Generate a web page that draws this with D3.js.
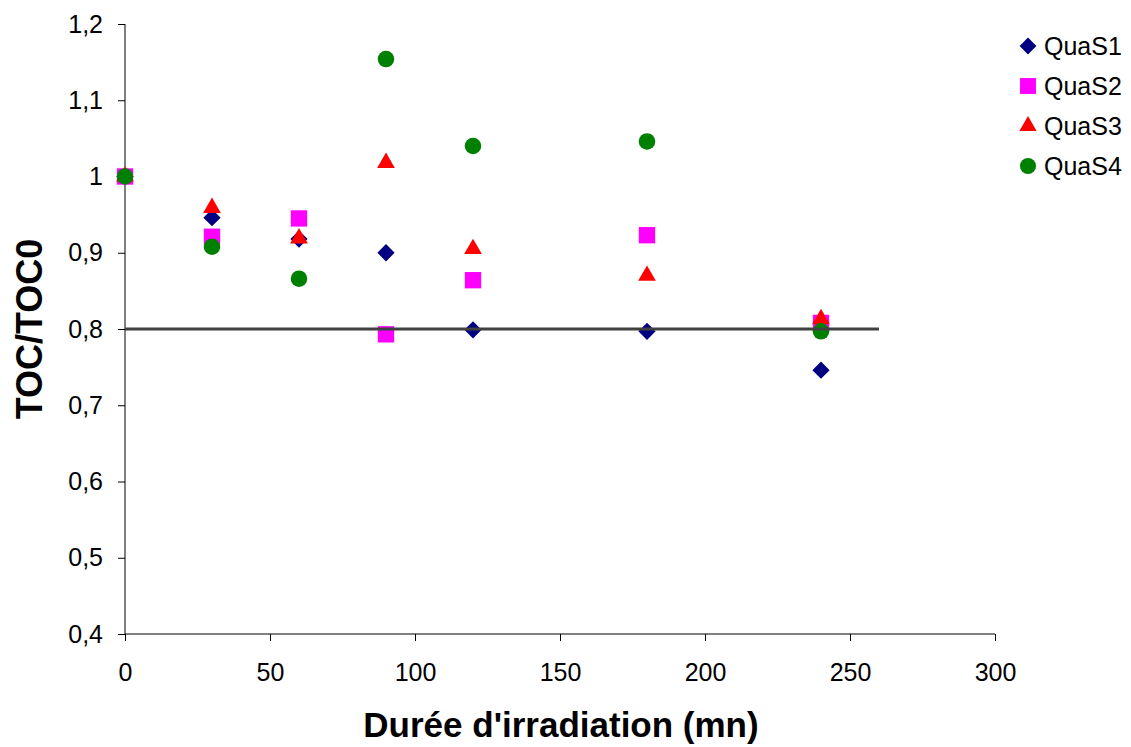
<!DOCTYPE html>
<html><head><meta charset="utf-8">
<script src="https://cdn.jsdelivr.net/npm/d3@7"></script>
<style>
body{margin:0;background:#fff;}
text{font-family:Arial,"Liberation Sans",sans-serif;}
</style></head>
<body><svg id="c" width="1131" height="747"></svg>
<script>
const times = [0, 30, 60, 90, 120, 180, 240];
const quas1 = [1.0, 0.946, 0.918, 0.900, 0.799, 0.797, 0.746];
const quas2 = [1.0, 0.921, 0.945, 0.793, 0.864, 0.923, 0.808];
const quas3 = [1.0, 0.959, 0.919, 1.018, 0.905, 0.870, 0.813];
const quas4 = [1.0, 0.908, 0.866, 1.154, 1.040, 1.046, 0.797];
const seriesNames = ["QuaS1", "QuaS2", "QuaS3", "QuaS4"];
const xTicks = [0, 50, 100, 150, 200, 250, 300];
const yTicks = [0.4, 0.5, 0.6, 0.7, 0.8, 0.9, 1.0, 1.1, 1.2];
const refLine = {y: 0.8, x0: 0, x1: 260};

const svg = d3.select("#c");
const x = d3.scaleLinear().domain([0, 300]).range([125, 995]);
const y = d3.scaleLinear().domain([0.4, 1.2]).range([634, 24]);

const styles = [
  {sym: d3.symbolDiamond2, color: "#000080", size: 190},
  {sym: d3.symbolSquare2, color: "#FF00FF", size: 340},
  {sym: d3.symbolTriangle2, color: "#FF0000", size: 225},
  {sym: d3.symbolCircle, color: "#008000", size: 215}
];
const allSeries = [quas1, quas2, quas3, quas4];

// axes
const fmt = d => d3.format(".1f")(d).replace(".", ",").replace(/,0$/, "");
const yAxis = svg.append("g").attr("transform", "translate(125,0)")
  .call(d3.axisLeft(y).tickValues(yTicks).tickFormat(fmt).tickSize(7).tickPadding(15));
const xAxis = svg.append("g").attr("transform", "translate(0,634)")
  .call(d3.axisBottom(x).tickValues(xTicks).tickFormat(d3.format("d")).tickSize(7).tickPadding(22));
[yAxis, xAxis].forEach(g => {
  g.select(".domain").attr("stroke", "#000").attr("stroke-width", 1);
  g.selectAll(".tick line").attr("stroke", "#000");
  g.selectAll("text").attr("font-size", 25).attr("fill", "#000")
    .style("font-family", "Arial, 'Liberation Sans', sans-serif");
});
yAxis.select(".domain").attr("d", "M0,24V634");
xAxis.select(".domain").attr("d", "M125,0H995");

// markers
allSeries.forEach((vals, i) => {
  const st = styles[i];
  const sym = d3.symbol().type(st.sym).size(st.size);
  svg.append("g").selectAll("path").data(vals).join("path")
    .attr("d", sym)
    .attr("transform", (d, j) => `translate(${x(times[j])},${y(d)})`)
    .attr("fill", st.color);
});

// reference line
svg.append("line")
  .attr("x1", x(refLine.x0)).attr("x2", x(refLine.x1))
  .attr("y1", y(refLine.y)).attr("y2", y(refLine.y))
  .attr("stroke", "#404040").attr("stroke-width", 3);

// axis titles
svg.append("text").attr("x", 561).attr("y", 737).attr("text-anchor", "middle")
  .attr("font-size", 35).attr("font-weight", "bold").text("Durée d'irradiation (mn)");
svg.append("text").attr("transform", "translate(42,329) rotate(-90)").attr("text-anchor", "middle")
  .attr("font-size", 36).attr("font-weight", "bold").text("TOC/TOC0");

// legend
const leg = svg.append("g");
seriesNames.forEach((n, i) => {
  const st = styles[i];
  const cy = 46 + i * 40;
  leg.append("path").attr("d", d3.symbol().type(st.sym).size(st.size * 0.95)())
    .attr("transform", `translate(1028,${cy})`).attr("fill", st.color);
  leg.append("text").attr("x", 1044).attr("y", cy + 9).attr("font-size", 25).text(n);
});
</script></body></html>
